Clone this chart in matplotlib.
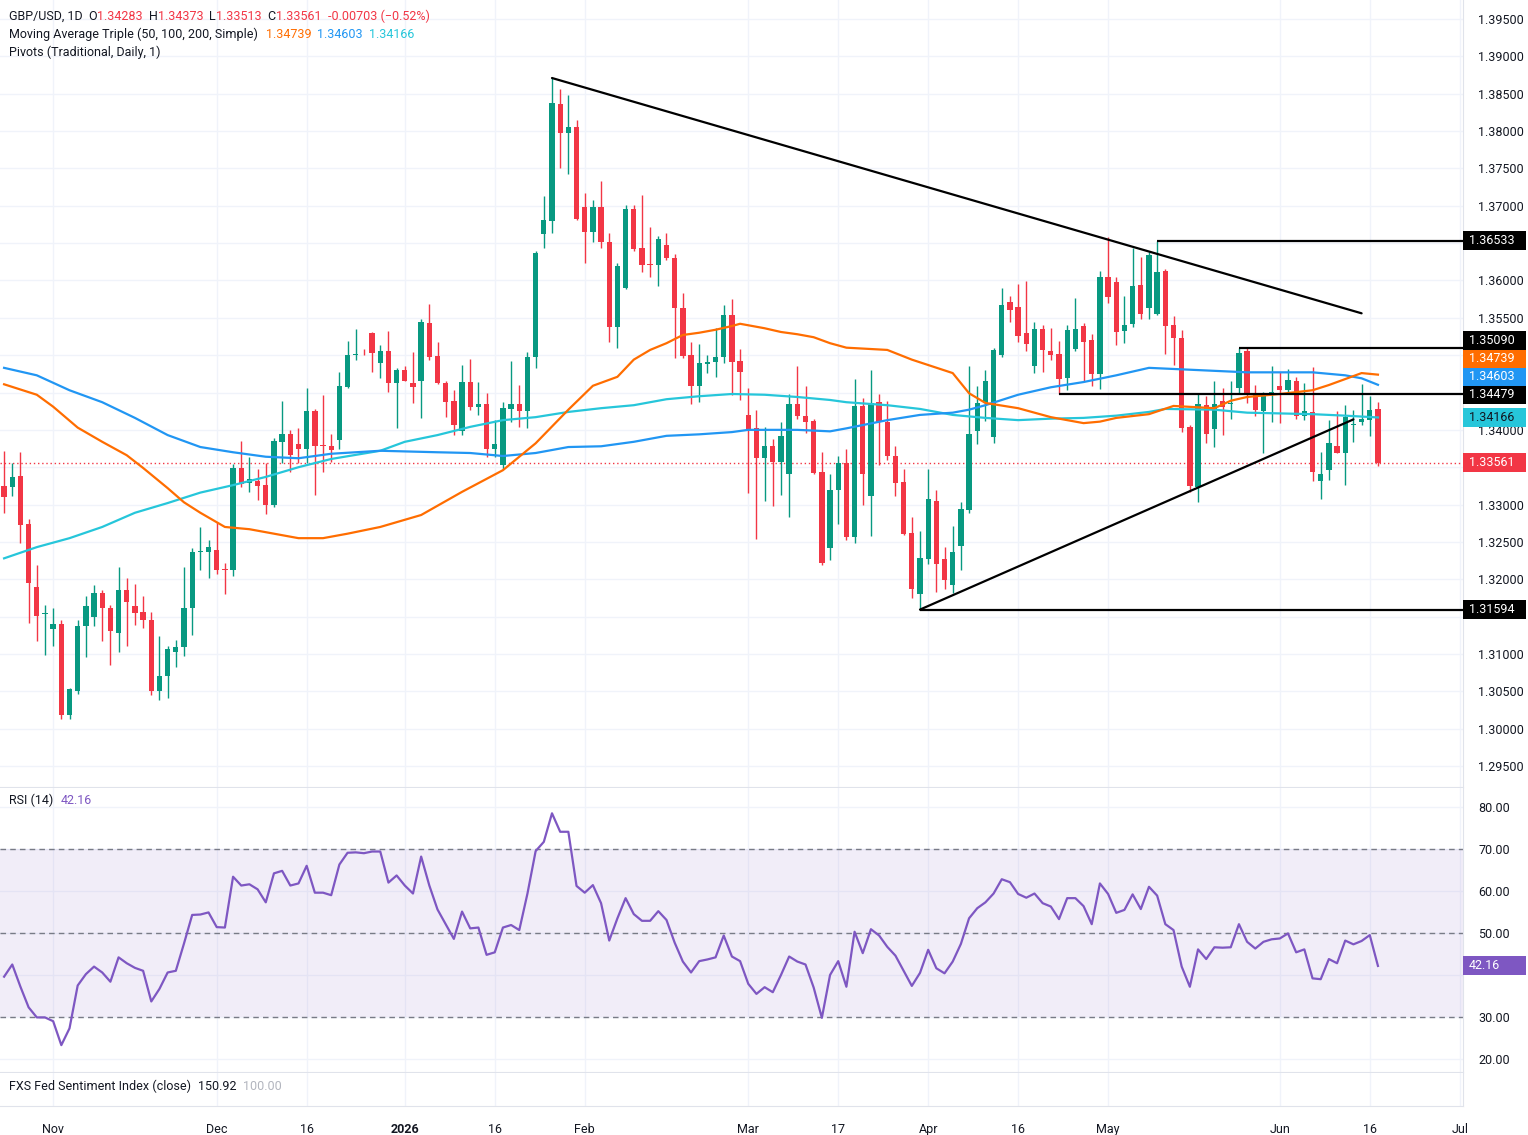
import numpy as np
import pandas as pd
import matplotlib
matplotlib.use("Agg")
import matplotlib.pyplot as plt
from matplotlib.patches import Rectangle
from matplotlib.transforms import IdentityTransform
from matplotlib.ticker import FuncFormatter

plt.rcParams['font.family'] = ['Roboto', 'DejaVu Sans']
plt.rcParams['font.size'] = 9

# ---- daily GBP/USD candles, 24 Oct 2025 .. 17 Jun 2026 (business days) ----
opens = [
    1.3325, 1.3323, 1.3338, 1.3274, 1.3190, 1.3153, 1.3134, 1.3140, 1.3018, 1.3051,
    1.3137, 1.3150, 1.3181, 1.3162, 1.3128, 1.3186, 1.3164, 1.3156, 1.3146, 1.3050,
    1.3070, 1.3102, 1.3109, 1.3162, 1.3236, 1.3237, 1.3239, 1.3213, 1.3212, 1.3349,
    1.3329, 1.3331, 1.3326, 1.3299, 1.3384, 1.3394, 1.3381, 1.3374, 1.3425, 1.3380,
    1.3379, 1.3386, 1.3457, 1.3500, 1.3502, 1.3530, 1.3489, 1.3506, 1.3463, 1.3480,
    1.3463, 1.3466, 1.3543, 1.3499, 1.3463, 1.3438, 1.3399, 1.3464, 1.3430, 1.3434,
    1.3375, 1.3353, 1.3428, 1.3435, 1.3425, 1.3497, 1.3662, 1.3680, 1.3836, 1.3798,
    1.3806, 1.3698, 1.3665, 1.3698, 1.3651, 1.3538, 1.3590, 1.3696, 1.3643, 1.3622,
    1.3621, 1.3648, 1.3630, 1.3563, 1.3500, 1.3459, 1.3488, 1.3491, 1.3497, 1.3554,
    1.3492, 1.3420, 1.3403, 1.3362, 1.3378, 1.3357, 1.3341, 1.3435, 1.3419, 1.3412,
    1.3344, 1.3242, 1.3320, 1.3355, 1.3257, 1.3432, 1.3312, 1.3437, 1.3411, 1.3365,
    1.3330, 1.3262, 1.3180, 1.3227, 1.3305, 1.3227, 1.3192, 1.3244, 1.3293, 1.3398,
    1.3436, 1.3391, 1.3500, 1.3571, 1.3565, 1.3530, 1.3486, 1.3535, 1.3505, 1.3502,
    1.3469, 1.3508, 1.3539, 1.3520, 1.3475, 1.3605, 1.3598, 1.3532, 1.3542, 1.3594,
    1.3563, 1.3555, 1.3612, 1.3540, 1.3523, 1.3404, 1.3324, 1.3433, 1.3401, 1.3439,
    1.3435, 1.3456, 1.3506, 1.3447, 1.3425, 1.3448, 1.3459, 1.3453, 1.3465, 1.3419,
    1.3424, 1.3331, 1.3346, 1.3378, 1.3369, 1.3407, 1.3411, 1.3413, 1.34283]
highs = [
    1.3372, 1.3355, 1.3371, 1.3281, 1.3219, 1.3166, 1.3162, 1.3145, 1.3055, 1.3145,
    1.3177, 1.3192, 1.3186, 1.3166, 1.3217, 1.3202, 1.3194, 1.3178, 1.3156, 1.3124,
    1.3111, 1.3119, 1.3216, 1.3242, 1.3270, 1.3253, 1.3276, 1.3222, 1.3354, 1.3385,
    1.3363, 1.3347, 1.3356, 1.3389, 1.3439, 1.3400, 1.3403, 1.3456, 1.3428, 1.3447,
    1.3394, 1.3478, 1.3519, 1.3535, 1.3508, 1.3531, 1.3514, 1.3532, 1.3483, 1.3485,
    1.3504, 1.3548, 1.3569, 1.3517, 1.3466, 1.3453, 1.3487, 1.3495, 1.3464, 1.3449,
    1.3413, 1.3437, 1.3492, 1.3460, 1.3504, 1.3639, 1.3713, 1.3871, 1.3856, 1.3848,
    1.3815, 1.3717, 1.3708, 1.3733, 1.3664, 1.3624, 1.3701, 1.3701, 1.3714, 1.3671,
    1.3660, 1.3663, 1.3636, 1.3583, 1.3518, 1.3515, 1.3500, 1.3537, 1.3567, 1.3575,
    1.3508, 1.3456, 1.3426, 1.3404, 1.3388, 1.3411, 1.3448, 1.3485, 1.3459, 1.3415,
    1.3370, 1.3341, 1.3365, 1.3375, 1.3468, 1.3442, 1.3480, 1.3448, 1.3438, 1.3378,
    1.3348, 1.3284, 1.3265, 1.3348, 1.3320, 1.3243, 1.3271, 1.3303, 1.3485, 1.3459,
    1.3480, 1.3510, 1.3590, 1.3579, 1.3595, 1.3599, 1.3544, 1.3540, 1.3536, 1.3519,
    1.3540, 1.3577, 1.3543, 1.3528, 1.3613, 1.3658, 1.3605, 1.3579, 1.3644, 1.3632,
    1.3638, 1.36533, 1.3615, 1.3553, 1.3534, 1.3407, 1.3450, 1.3445, 1.3465, 1.3456,
    1.3465, 1.35090, 1.3509, 1.3460, 1.3451, 1.3485, 1.3478, 1.3482, 1.3471, 1.3463,
    1.3484, 1.3371, 1.3413, 1.3425, 1.3433, 1.3427, 1.3461, 1.3445, 1.34373]
lows = [
    1.3289, 1.3311, 1.3248, 1.3142, 1.3118, 1.3099, 1.3110, 1.3013, 1.3013, 1.3047,
    1.3096, 1.3137, 1.3118, 1.3085, 1.3102, 1.3110, 1.3139, 1.3135, 1.3045, 1.3038,
    1.3041, 1.3083, 1.3097, 1.3125, 1.3212, 1.3202, 1.3207, 1.3180, 1.3205, 1.3323,
    1.3317, 1.3306, 1.3288, 1.3297, 1.3356, 1.3344, 1.3356, 1.3356, 1.3313, 1.3343,
    1.3357, 1.3375, 1.3456, 1.3494, 1.3500, 1.3478, 1.3470, 1.3451, 1.3403, 1.3465,
    1.3436, 1.3416, 1.3493, 1.3462, 1.3417, 1.3393, 1.3393, 1.3426, 1.3420, 1.3364,
    1.3364, 1.3347, 1.3411, 1.3404, 1.3403, 1.3483, 1.3644, 1.3664, 1.3750, 1.3743,
    1.3681, 1.3624, 1.3652, 1.3644, 1.3517, 1.3510, 1.3588, 1.3639, 1.3611, 1.3604,
    1.3592, 1.3627, 1.3496, 1.3496, 1.3435, 1.3437, 1.3476, 1.3471, 1.3489, 1.3446,
    1.3440, 1.3315, 1.3254, 1.3305, 1.3298, 1.3313, 1.3284, 1.3414, 1.3396, 1.3341,
    1.3219, 1.3226, 1.3274, 1.3253, 1.3248, 1.3299, 1.3258, 1.3353, 1.3359, 1.3312,
    1.3259, 1.3175, 1.31594, 1.3221, 1.3183, 1.3187, 1.3181, 1.3212, 1.3289, 1.3381,
    1.3412, 1.3383, 1.3498, 1.3545, 1.3518, 1.3506, 1.3476, 1.3477, 1.3494, 1.34479,
    1.3454, 1.3506, 1.3465, 1.3459, 1.3455, 1.3570, 1.3513, 1.3516, 1.3538, 1.3549,
    1.3549, 1.3554, 1.3502, 1.3487, 1.3397, 1.3317, 1.3304, 1.3382, 1.3377, 1.3393,
    1.3415, 1.3449, 1.3436, 1.3419, 1.3369, 1.3410, 1.3409, 1.3449, 1.3414, 1.3413,
    1.3332, 1.3307, 1.3333, 1.3369, 1.3326, 1.3384, 1.3407, 1.3392, 1.33513]
closes = [
    1.3310, 1.3337, 1.3272, 1.3195, 1.3151, 1.3154, 1.3140, 1.3018, 1.3053, 1.3137,
    1.3164, 1.3181, 1.3162, 1.3131, 1.3186, 1.3169, 1.3155, 1.3145, 1.3050, 1.3071,
    1.3106, 1.3109, 1.3162, 1.3236, 1.3237, 1.3243, 1.3212, 1.3212, 1.3349, 1.3328,
    1.3334, 1.3325, 1.3299, 1.3385, 1.3394, 1.3367, 1.3374, 1.3425, 1.3378, 1.3379,
    1.3373, 1.3459, 1.3500, 1.3501, 1.3501, 1.3503, 1.3506, 1.3463, 1.3480, 1.3466,
    1.3457, 1.3545, 1.3498, 1.3463, 1.3437, 1.3407, 1.3464, 1.3430, 1.3434, 1.3375,
    1.3381, 1.3429, 1.3435, 1.3425, 1.3498, 1.3637, 1.3681, 1.3838, 1.3798, 1.3806,
    1.3682, 1.3665, 1.3698, 1.3651, 1.3538, 1.3620, 1.3696, 1.3642, 1.3621, 1.3621,
    1.3656, 1.3630, 1.3563, 1.3499, 1.3459, 1.3489, 1.3491, 1.3497, 1.3554, 1.3491,
    1.3477, 1.3401, 1.3362, 1.3378, 1.3357, 1.3392, 1.3435, 1.3418, 1.3411, 1.3342,
    1.3222, 1.3320, 1.3356, 1.3257, 1.3432, 1.3341, 1.3436, 1.3410, 1.3365, 1.3329,
    1.3260, 1.3187, 1.3229, 1.3308, 1.3221, 1.3199, 1.3236, 1.3294, 1.3394, 1.3436,
    1.3465, 1.3507, 1.3567, 1.3560, 1.3525, 1.3515, 1.3535, 1.3507, 1.3500, 1.3468,
    1.3534, 1.3535, 1.3517, 1.3475, 1.3605, 1.3578, 1.3531, 1.3540, 1.3593, 1.3555,
    1.3634, 1.3611, 1.3539, 1.3523, 1.3403, 1.3325, 1.3435, 1.3395, 1.3435, 1.3431,
    1.3436, 1.3503, 1.3447, 1.3427, 1.3445, 1.3451, 1.3453, 1.3467, 1.3418, 1.3425,
    1.3343, 1.3341, 1.3382, 1.3369, 1.3417, 1.3408, 1.3415, 1.34264, 1.33561]

# RSI(14), one value per candle
rsi = [
    39.6, 42.5, 37.2, 32.3, 29.9, 29.9, 29.0, 23.3, 27.3, 37.5,
    40.2, 42.0, 40.6, 38.4, 44.2, 42.8, 41.7, 41.0, 33.7, 36.7,
    40.6, 41.0, 47.5, 54.3, 54.4, 54.9, 51.4, 51.3, 63.4, 61.3,
    61.6, 60.4, 57.3, 64.2, 64.8, 61.3, 61.8, 66.0, 59.6, 59.6,
    59.0, 66.3, 69.1, 69.2, 69.0, 69.4, 69.4, 62.0, 63.7, 61.3,
    59.4, 68.2, 61.3, 55.6, 52.1, 48.6, 55.1, 51.1, 51.3, 44.8,
    45.4, 51.3, 51.9, 50.7, 59.4, 69.5, 71.7, 78.5, 74.1, 74.1,
    61.2, 59.6, 61.4, 57.1, 48.2, 53.5, 58.3, 54.5, 52.9, 52.9,
    55.2, 53.1, 47.7, 43.2, 40.6, 43.3, 43.7, 44.2, 49.4, 44.4,
    43.3, 37.9, 35.5, 37.1, 35.9, 40.0, 44.4, 43.2, 42.5, 37.0,
    29.8, 40.0, 43.3, 37.2, 50.3, 45.2, 50.9, 49.4, 46.7, 44.6,
    41.0, 37.4, 40.5, 46.0, 41.6, 40.4, 43.2, 47.4, 53.5, 55.9,
    57.3, 59.4, 62.8, 62.1, 59.3, 58.4, 59.4, 57.1, 56.3, 53.3,
    58.3, 58.3, 56.4, 52.1, 61.8, 59.3, 54.8, 55.5, 59.2, 55.7,
    61.0, 58.9, 52.1, 50.7, 42.0, 37.2, 46.1, 43.8, 46.6, 46.5,
    46.6, 52.1, 47.9, 46.3, 47.9, 48.5, 48.7, 49.9, 45.4, 46.1,
    39.2, 39.0, 43.8, 42.8, 48.2, 47.3, 48.1, 49.5, 42.16]

# simple moving averages, read at bar positions
ma50_x = [0, 4, 6, 9, 12, 15, 17, 20, 22, 24, 27, 30, 33, 36, 39, 42, 46, 51, 56, 61,
          65, 69, 72, 75, 77, 79, 81, 83, 85, 87, 89, 90, 93, 95, 97, 99, 101, 103, 108, 111,
          116, 118, 120, 124, 128, 132, 134, 136, 140, 143, 148, 150, 152, 156, 160, 162, 164, 166, 168]
ma50_y = [1.3461, 1.3447, 1.3431, 1.3403, 1.3384, 1.3366, 1.3349, 1.3322, 1.3303, 1.3289,
          1.3270, 1.3267, 1.3261, 1.3255, 1.3255, 1.3261, 1.3270, 1.3286, 1.3317, 1.3346,
          1.3382, 1.3427, 1.3459, 1.3471, 1.3494, 1.3507, 1.3516, 1.3527, 1.3530, 1.3534,
          1.3539, 1.3542, 1.3536, 1.3531, 1.3528, 1.3524, 1.3516, 1.3510, 1.3507, 1.3494,
          1.3476, 1.3449, 1.3436, 1.3429, 1.3417, 1.3409, 1.3411, 1.3416, 1.3421, 1.3432,
          1.3429, 1.3439, 1.3444, 1.3448, 1.3453, 1.3460, 1.3468, 1.3476, 1.34739]
ma100_x = [0, 4, 8, 12, 16, 20, 24, 28, 32, 36, 40, 46, 53, 57, 61, 65, 69, 73, 77, 81,
           85, 89, 91, 97, 101, 103, 108, 112, 116, 118, 120, 124, 128, 132, 136, 140, 144, 148, 152, 160,
           164, 166, 168]
ma100_y = [1.3483, 1.3473, 1.3453, 1.3437, 1.3416, 1.3393, 1.3377, 1.3370, 1.3364, 1.3362,
           1.3368, 1.3372, 1.3370, 1.3369, 1.3365, 1.3369, 1.3377, 1.3378, 1.3384, 1.3392,
           1.3394, 1.3397, 1.3400, 1.3400, 1.3398, 1.3402, 1.3413, 1.3420, 1.3423, 1.3427,
           1.3433, 1.3447, 1.3457, 1.3464, 1.3473, 1.3483, 1.3481, 1.3479, 1.3477, 1.3477,
           1.3473, 1.3469, 1.34603]
ma200_x = [0, 4, 8, 12, 16, 20, 24, 28, 32, 36, 40, 46, 49, 53, 57, 61, 65, 69, 73, 77,
           81, 85, 89, 93, 97, 101, 103, 108, 112, 116, 120, 124, 128, 132, 136, 140, 142, 148, 152, 160,
           164, 168]
ma200_y = [1.3228, 1.3243, 1.3255, 1.3270, 1.3289, 1.3302, 1.3316, 1.3326, 1.3337, 1.3350,
           1.3361, 1.3372, 1.3384, 1.3393, 1.3404, 1.3413, 1.3417, 1.3424, 1.3429, 1.3433,
           1.3441, 1.3445, 1.3448, 1.3447, 1.3444, 1.3440, 1.3437, 1.3433, 1.3428, 1.3420,
           1.3416, 1.3413, 1.3415, 1.3416, 1.3419, 1.3424, 1.3428, 1.3427, 1.3423, 1.3421,
           1.3419, 1.34166]

# drawn trend lines (bar index, price) and pivot levels
trend_x = [[67, 166], [112, 165]]
trend_y = [[1.3871, 1.3556], [1.31594, 1.3414]]
pivot_levels = [1.36533, 1.35090, 1.34479, 1.31594]
pivot_start = [141, 151, 129, 112]

tick_dates = ['2025-11-03', '2025-12-01', '2025-12-16', '2026-01-01', '2026-01-16',
              '2026-02-02', '2026-03-02', '2026-03-17', '2026-04-01', '2026-04-16',
              '2026-05-01', '2026-06-01', '2026-06-16', '2026-07-01']
tick_text = ['Nov', 'Dec', '16', '2026', '16', 'Feb', 'Mar', '17', 'Apr', '16',
             'May', 'Jun', '16', 'Jul']

# ---- colours ----
UP, DOWN = '#089981', '#f23645'
C50, C100, C200 = '#ff6d00', '#2196f3', '#26c6da'
PURPLE = '#7e57c2'
TXT = '#131722'
GRID = '#f0f3fa'
SEP = '#e0e3eb'

o = np.array(opens); h = np.array(highs); l = np.array(lows); c = np.array(closes)
n = len(c)
xs = np.arange(n)
days = pd.bdate_range('2025-10-24', '2026-07-15')
tick_pos = [days.get_loc(pd.Timestamp(d)) for d in tick_dates]

W, H = 1528, 1135
RIGHT = 1463
fig = plt.figure(figsize=(W / 100, H / 100), dpi=100)


def pane(top, bottom):
    a = fig.add_axes([0, 1 - bottom / H, RIGHT / W, (bottom - top) / H])
    a.set_xlim(-0.5, 178.4)
    a.set_xticks(tick_pos)
    a.grid(True, color=GRID, lw=1)
    a.set_axisbelow(True)
    for s in ['top', 'left']:
        a.spines[s].set_visible(False)
    for s in ['right', 'bottom']:
        a.spines[s].set_color(SEP)
    a.yaxis.tick_right()
    a.tick_params(axis='both', length=0, labelcolor=TXT, labelsize=9)
    a.tick_params(axis='y', pad=11)
    a.tick_params(axis='x', labelbottom=False)
    return a


ax = pane(0, 787)
ax_rsi = pane(788, 1072)
ax_fxs = pane(1073, 1106)

# ---- price pane ----
ax.set_ylim(1.395 - 768 / 7470, 1.395 + 19 / 7470)
ax.set_yticks(np.arange(1.295, 1.39501, 0.005))

up = c >= o
cols = np.where(up, UP, DOWN)
ax.vlines(xs, l, h, colors=cols, lw=1, zorder=2)
body_lo = np.minimum(o, c)
body_h = np.maximum(np.abs(c - o), 0.00012)
ax.bar(xs, body_h, bottom=body_lo, width=0.65, color=cols, lw=0, zorder=2)

ax.plot(ma200_x, ma200_y, color=C200, lw=1.6, zorder=3)
ax.plot(ma100_x, ma100_y, color=C100, lw=1.6, zorder=3)
ax.plot(ma50_x, ma50_y, color=C50, lw=1.6, zorder=3)

for tx, ty in zip(trend_x, trend_y):
    ax.plot(tx, ty, color='black', lw=1.6, zorder=4, solid_capstyle='round')
ax.hlines(pivot_levels, pivot_start, 178.4, colors='black', lw=1.6, zorder=4)
ax.axhline(c[-1], color=DOWN, lw=1, ls=(0, (1, 2)), zorder=1)

# ---- RSI pane ----
ax_rsi.set_ylim(70 - (1072 - 849) / 4.2, 70 + (849 - 788) / 4.2)
ax_rsi.set_yticks([20, 30, 40, 50, 60, 70, 80])
ax_rsi.axhspan(30, 70, color=PURPLE, alpha=0.1, lw=0, zorder=1)
for lv in (70, 50, 30):
    ax_rsi.axhline(lv, color='#787b86', lw=1, ls=(0, (4, 3)), zorder=2)
ax_rsi.plot(xs, rsi, color=PURPLE, lw=1.6, zorder=3)

# ---- sentiment pane (empty) + time axis ----
ax_fxs.set_ylim(0, 1)
ax_fxs.set_yticks([])
ax_fxs.tick_params(axis='x', labelbottom=True, pad=12)
ax_fxs.set_xticklabels(tick_text)
ax_fxs.get_xticklabels()[tick_text.index('2026')].set_fontweight('bold')


# ---- legends ----
def chain(host, x, y, parts):
    prev = None
    for s, col, gap in parts:
        if prev is None:
            prev = host.annotate(s, xy=(x, H - y), xycoords='figure pixels',
                                 color=col, va='center', ha='left', fontsize=9)
        else:
            prev = host.annotate(s, xy=(1, 0.5), xycoords=prev, xytext=(gap * 0.72, 0),
                                 textcoords='offset points', color=col,
                                 va='center', ha='left', fontsize=9)


chg = c[-1] - c[-2]
pct = chg / c[-2] * 100
chain(ax, 9, 16, [("GBP/USD, 1D", TXT, 0), ("O", TXT, 6), (f"{o[-1]:.5f}", DOWN, 0),
                  ("H", TXT, 6), (f"{h[-1]:.5f}", DOWN, 0),
                  ("L", TXT, 6), (f"{l[-1]:.5f}", DOWN, 0),
                  ("C", TXT, 6), (f"{c[-1]:.5f}", DOWN, 0),
                  (f"{chg:.5f} ({pct:.2f}%)".replace('(-', '(\u2212'), DOWN, 7)])
chain(ax, 9, 34, [("Moving Average Triple (50, 100, 200, Simple)", TXT, 0),
                  (f"{ma50_y[-1]:.5f}", C50, 8), (f"{ma100_y[-1]:.5f}", C100, 6),
                  (f"{ma200_y[-1]:.5f}", C200, 6)])
chain(ax, 9, 52, [("Pivots (Traditional, Daily, 1)", TXT, 0)])
chain(ax_rsi, 9, 800, [("RSI (14)", TXT, 0), (f"{rsi[-1]:.2f}", PURPLE, 7)])
chain(ax_fxs, 9, 1086, [("FXS Fed Sentiment Index (close)", TXT, 0), ("150.92", TXT, 7),
                        ("100.00", '#b2b5be', 7)])


# ---- price-scale labels ----
def scale_box(ypix, text, fc, tc):
    fig.add_artist(Rectangle((RIGHT, ypix - 9.5), 63, 19, transform=IdentityTransform(),
                             fc=fc, ec='none', zorder=5))
    fig.text(RIGHT + 6, ypix, text, transform=IdentityTransform(), color=tc,
             va='center', ha='left', fontsize=9, zorder=6)


def hide_covered(axis, box_pix, fmt):
    # blank out scale ticks that sit under a value label, like the scale does
    def f(v, pos):
        yp = axis.transData.transform((0, v))[1]
        if any(abs(yp - b) < 12 for b in box_pix):
            return ''
        return fmt % v
    axis.yaxis.set_major_formatter(FuncFormatter(f))


boxes = [(1.36533, 'black', 'white'), (1.35090, 'black', 'white'),
         (ma50_y[-1], C50, 'white'), (ma100_y[-1], C100, 'white'),
         (1.34479, 'black', 'white'), (ma200_y[-1], C200, TXT), (c[-1], DOWN, 'white'),
         (1.31594, 'black', 'white')]
# stack labels from the bottom up so they don't overlap
boxes.sort(key=lambda b: b[0])
placed = []
last = None
for val, fc, tc in boxes:
    yp = ax.transData.transform((0, val))[1]
    if last is not None and yp < last + 18:
        yp = last + 18
    placed.append((yp, f"{val:.5f}", fc, tc))
    last = yp
for yp, t, fc, tc in placed:
    scale_box(yp, t, fc, tc)
hide_covered(ax, [p[0] for p in placed], '%.5f')

rsi_pix = ax_rsi.transData.transform((0, rsi[-1]))[1]
scale_box(rsi_pix, f"{rsi[-1]:.2f}", PURPLE, 'white')
hide_covered(ax_rsi, [rsi_pix], '%.2f')

fig.savefig('out.png', dpi=100, facecolor='white')
